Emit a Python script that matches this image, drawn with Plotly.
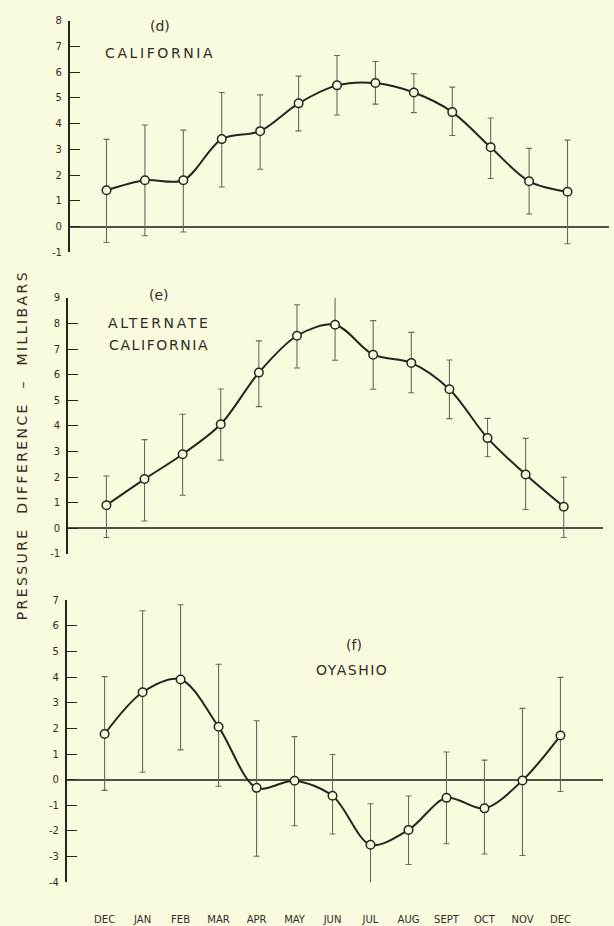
import plotly.graph_objects as go

months = ["DEC", "JAN", "FEB", "MAR", "APR", "MAY", "JUN", "JUL", "AUG", "SEPT", "OCT", "NOV", "DEC"]
xpos = list(range(len(months)))

# (d) California
cal_val = [1.41, 1.80, 1.80, 3.40, 3.71, 4.79, 5.49, 5.58, 5.21, 4.45, 3.08, 1.76, 1.35]
cal_hi = [3.39, 3.95, 3.75, 5.21, 5.12, 5.85, 6.65, 6.42, 5.94, 5.42, 4.22, 3.04, 3.36]
cal_lo = [-0.62, -0.36, -0.21, 1.54, 2.23, 3.72, 4.34, 4.76, 4.43, 3.54, 1.87, 0.49, -0.67]

# (e) Alternate California
alt_val = [0.90, 1.92, 2.89, 4.06, 6.08, 7.52, 7.95, 6.78, 6.46, 5.43, 3.52, 2.10, 0.84]
alt_hi = [2.04, 3.46, 4.45, 5.44, 7.32, 8.73, 9.32, 8.11, 7.65, 6.57, 4.29, 3.51, 1.99]
alt_lo = [-0.36, 0.28, 1.29, 2.66, 4.75, 6.26, 6.56, 5.43, 5.29, 4.28, 2.79, 0.73, -0.36]

# (f) Oyashio
oya_val = [1.78, 3.41, 3.91, 2.06, -0.32, -0.04, -0.63, -2.54, -1.96, -0.71, -1.12, -0.03, 1.72]
oya_hi = [4.02, 6.59, 6.82, 4.50, 2.30, 1.68, 0.98, -0.94, -0.64, 1.08, 0.76, 2.78, 3.99]
oya_lo = [-0.42, 0.29, 1.16, -0.26, -2.99, -1.80, -2.12, -4.12, -3.31, -2.50, -2.90, -2.96, -0.46]

BG = "#FAFADF"
INK = "#25251f"
ERR = "#6a6a5c"
TXT = "#2e2e28"

fig = go.Figure()

panels = [
    (cal_val, cal_hi, cal_lo, "x", "y"),
    (alt_val, alt_hi, alt_lo, "x2", "y2"),
    (oya_val, oya_hi, oya_lo, "x3", "y3"),
]
for val, hi, lo, xa, ya in panels:
    fig.add_trace(go.Scatter(
        x=xpos, y=val, xaxis=xa, yaxis=ya, mode="lines+markers",
        line=dict(color=INK, width=2, shape="spline", smoothing=0.9),
        marker=dict(symbol="circle", size=8.5, color=BG, line=dict(color=INK, width=1.5)),
        error_y=dict(type="data", symmetric=False,
                     array=[h - v for h, v in zip(hi, val)],
                     arrayminus=[v - l for v, l in zip(val, lo)],
                     color=ERR, thickness=1.1, width=3),
        showlegend=False, cliponaxis=False,
    ))

H = 926.0
W = 614.0

def ydom(top_px, bot_px):
    return [1 - bot_px / H, 1 - top_px / H]

yaxis_common = dict(
    showline=True, linecolor=INK, linewidth=2.2, mirror=False,
    ticks="inside", ticklen=10, tickwidth=1.1, tickcolor=INK,
    tickfont=dict(family="DejaVu Sans", size=10, color=TXT),
    showgrid=False, zeroline=True, zerolinecolor="#505046", zerolinewidth=1.5,
    ticklabelstandoff=4,
)
xaxis_common = dict(
    showline=False, showgrid=False, zeroline=False, ticks="",
    tickmode="array", tickvals=xpos, ticktext=months,
)

fig.update_layout(
    width=614, height=926,
    margin=dict(l=0, r=0, t=0, b=0),
    paper_bgcolor=BG, plot_bgcolor=BG,
    xaxis=dict(domain=[70 / W, 609 / W], range=[-0.95, 13.08], anchor="y",
               showticklabels=False, **xaxis_common),
    yaxis=dict(domain=ydom(15, 249.5), range=[-1, 8], anchor="x",
               tickmode="array", tickvals=list(range(-1, 9)),
               ticktext=[str(v) if v >= 0 else "-" + str(-v) for v in range(-1, 9)], **yaxis_common),
    xaxis2=dict(domain=[68.3 / W, 603 / W], range=[-1.0, 13.03], anchor="y2",
                showticklabels=False, **xaxis_common),
    yaxis2=dict(domain=ydom(295.7, 555), range=[-1, 9], anchor="x2",
                tickmode="array", tickvals=list(range(-1, 10)),
                ticktext=[str(v) if v >= 0 else "-" + str(-v) for v in range(-1, 10)], **yaxis_common),
    xaxis3=dict(domain=[67 / W, 603 / W], range=[-0.99, 13.12], anchor="y3",
                showticklabels=True, ticklabelstandoff=30,
                tickfont=dict(family="DejaVu Sans", size=10, color=TXT), **xaxis_common),
    yaxis3=dict(domain=ydom(602, 887.7), range=[-4, 7], anchor="x3",
                tickmode="array", tickvals=list(range(-4, 8)),
                ticktext=[str(v) if v >= 0 else "-" + str(-v) for v in range(-4, 8)], **yaxis_common),
)

def sp(text, ls):
    return f'<span style="letter-spacing:{ls}px">{text}</span>'

ann_font = dict(family="DejaVu Sans", size=14, color=TXT)
annotations = [
    dict(x=160 / W, y=1 - 20 / H, text="(d)"),
    dict(x=160 / W, y=1 - 48 / H, text=sp("CALIFORNIA", 2.6)),
    dict(x=158.6 / W, y=1 - 293 / H, text="(e)"),
    dict(x=158.6 / W, y=1 - 321 / H, text=sp("ALTERNATE", 2.6)),
    dict(x=158.6 / W, y=1 - 343 / H, text=sp("CALIFORNIA", 1.6)),
    dict(x=353.6 / W, y=1 - 647 / H, text="(f)"),
    dict(x=352 / W, y=1 - 673 / H, text=sp("OYASHIO", 1.5)),
]
for a in annotations:
    fig.add_annotation(xref="paper", yref="paper", showarrow=False,
                       xanchor="center", yanchor="middle", font=ann_font, **a)

fig.add_annotation(
    xref="paper", yref="paper", x=22 / W, y=1 - 445 / H, showarrow=False,
    textangle=-90, xanchor="center", yanchor="middle",
    text=sp("PRESSURE  DIFFERENCE  –  MILLIBARS", 2.4),
    font=dict(family="DejaVu Sans", size=14, color=TXT),
)

fig.write_html("out.html")
